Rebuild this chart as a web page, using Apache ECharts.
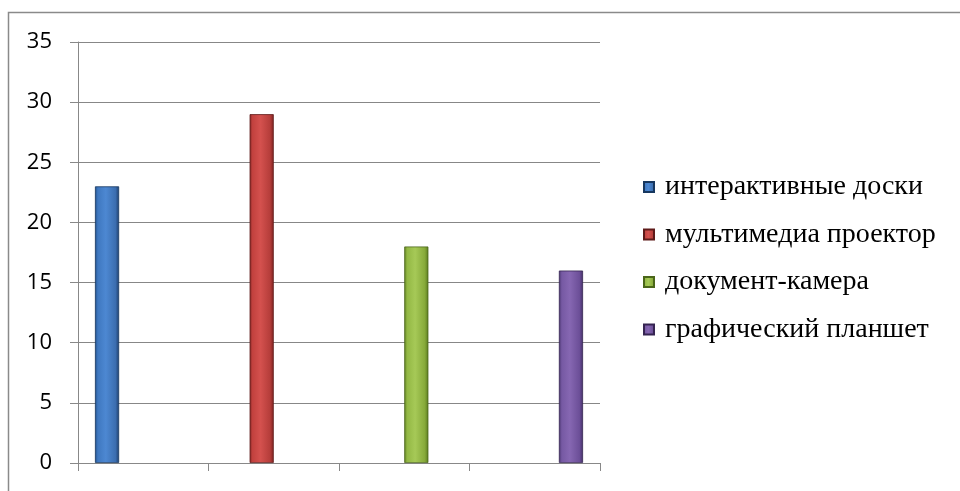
<!DOCTYPE html>
<html>
<head>
<meta charset="utf-8">
<script src="https://cdn.jsdelivr.net/npm/echarts@6/dist/echarts.min.js"></script>
<style>
html,body{margin:0;padding:0;background:#fff;}
#chart{width:960px;height:491px;}
</style>
</head>
<body>
<div id="chart"></div>
<script>
const categories = ['', '', '', ''];
const seriesNames = ['интерактивные доски', 'мультимедиа проектор', 'документ-камера', 'графический планшет'];
const valuesInteractive = [23, '-', '-', '-'];
const valuesProjector = ['-', 29, '-', '-'];
const valuesDocCam = ['-', '-', 18, '-'];
const valuesTablet = ['-', '-', '-', 16];
const yTicks = [0, 5, 10, 15, 20, 25, 30, 35];

const palettes = [
  ['#1f4f8a', '#3f78c0', '#4d88d2', '#3b6eb0', '#1e3f6e', '#17375f'],
  ['#8a2a28', '#c2413e', '#d4514e', '#b53d3a', '#7d2321', '#5e1a19'],
  ['#5f7f22', '#93b844', '#a6c957', '#87aa3a', '#5a7a1f', '#4a6619'],
  ['#4a3470', '#7659a3', '#8667b2', '#6c4f98', '#452f68', '#352451']
];
function grad(p) {
  return new echarts.graphic.LinearGradient(0, 0, 1, 0, [
    {offset: 0, color: p[0]},
    {offset: 0.12, color: p[1]},
    {offset: 0.45, color: p[2]},
    {offset: 0.85, color: p[3]},
    {offset: 1, color: p[4]}
  ]);
}
const allValues = [valuesInteractive, valuesProjector, valuesDocCam, valuesTablet];

const chart = echarts.init(document.getElementById('chart'), null, {renderer: 'canvas'});
chart.setOption({
  animation: false,
  backgroundColor: '#fff',
  graphic: [{
    type: 'rect',
    shape: {x: 8.5, y: 12.5, width: 1000, height: 600},
    style: {fill: 'none', stroke: '#8a8a8a', lineWidth: 1.5},
    silent: true,
    z: -10
  }],
  grid: {left: 78, right: 360, top: 42, bottom: 28, containLabel: false},
  legend: {
    orient: 'vertical',
    left: 643,
    top: 173,
    padding: 0,
    itemWidth: 10,
    itemHeight: 10,
    itemGap: 19.5,
    icon: 'rect',
    textStyle: {
      fontFamily: 'Liberation Serif',
      fontSize: 28,
      lineHeight: 28,
      color: '#000',
      padding: [0, 0, 0, 6]
    },
    data: seriesNames
  },
  xAxis: {
    type: 'category',
    data: categories,
    axisLine: {show: true, lineStyle: {color: '#888', width: 1}},
    axisTick: {show: true, length: 8, lineStyle: {color: '#888'}},
    axisLabel: {show: false},
    splitLine: {show: false}
  },
  yAxis: {
    type: 'value',
    min: 0,
    max: 35,
    interval: 5,
    axisLine: {show: true, lineStyle: {color: '#888', width: 1}},
    axisTick: {show: true, length: 8, lineStyle: {color: '#888'}},
    axisLabel: {
      margin: 26,
      color: '#000',
      fontSize: 22,
      fontFamily: 'Open Sans',
      formatter: function (v) { return yTicks.indexOf(v) >= 0 ? String(v) : ''; }
    },
    splitLine: {show: true, lineStyle: {color: '#878787', width: 1}}
  },
  series: seriesNames.map(function (name, i) {
    return {
      name: name,
      type: 'bar',
      data: allValues[i],
      barGap: '0%',
      barCategoryGap: '26%',
      itemStyle: {
        color: grad(palettes[i]),
        borderColor: palettes[i][5],
        borderWidth: 0.8
      }
    };
  })
});
</script>
</body>
</html>
